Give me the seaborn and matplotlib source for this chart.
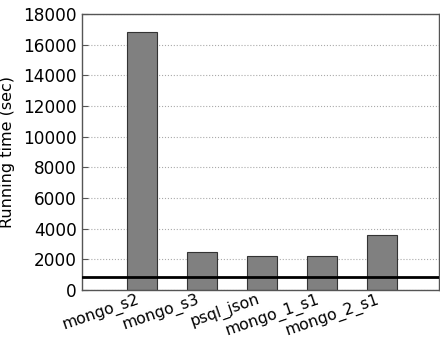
import matplotlib
matplotlib.use("Agg")
import matplotlib.pyplot as plt
import seaborn as sns
import pandas as pd

systems = ["mongo_s2", "mongo_s3", "psql_json", "mongo_1_s1", "mongo_2_s1"]
running_time = [16800, 2480, 2220, 2220, 3600]
baseline = 850
yticks = [0, 2000, 4000, 6000, 8000, 10000, 12000, 14000, 16000, 18000]

sns.set_style("white")
plt.rcParams["font.family"] = ["DejaVu Sans"]

df = pd.DataFrame({"system": systems, "time": running_time})

fig = plt.figure(figsize=(4.4, 3.4), dpi=100)
ax = fig.add_axes([0.186, 0.147, 0.812, 0.812])

sns.barplot(data=df, x="system", y="time", color="#808080", saturation=1,
            width=0.5, edgecolor="#333333", linewidth=0.8, ax=ax, zorder=2)
ax.axhline(baseline, color="black", linewidth=2, zorder=3)

ax.set_xlim(-1, 4.95)
ax.set_ylim(0, 18000)
ax.set_yticks(yticks)
ax.yaxis.grid(True, linestyle=":", color="#aaaaaa", linewidth=0.8, zorder=0)
ax.set_axisbelow(True)
ax.set_xlabel("")
ax.set_ylabel("Running time (sec)", fontsize=11.5, color="black")
ax.yaxis.set_label_coords(-0.188, 0.5)
ax.tick_params(axis="both", direction="in", length=4, labelsize=12.2,
               color="#555555", labelcolor="black", bottom=True, left=True)
ax.tick_params(axis="x", pad=1, labelsize=11.3)
plt.setp(ax.get_xticklabels(), rotation=19, ha="right")
for s in ax.spines.values():
    s.set_color("#555555")
    s.set_linewidth(1)

fig.savefig("out.png", dpi=100)
